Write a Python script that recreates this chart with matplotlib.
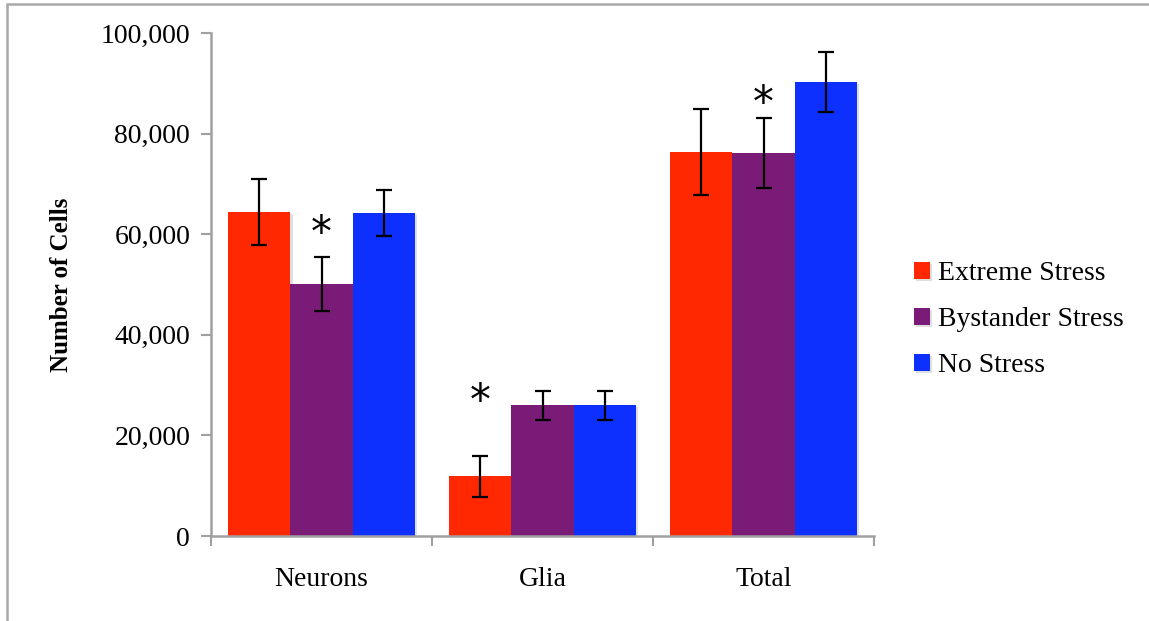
import matplotlib
matplotlib.use('Agg')
import matplotlib.pyplot as plt
import matplotlib.patheffects as pe
from matplotlib.patches import Rectangle
import numpy as np

plt.rcParams['font.family'] = ['Liberation Serif', 'DejaVu Serif']

# cell counts per region and condition
categories = ['Neurons', 'Glia', 'Total']
groups = ['Extreme Stress', 'Bystander Stress', 'No Stress']
means = {
    'Extreme Stress':   [64400, 11900, 76300],
    'Bystander Stress': [50100, 26000, 76100],
    'No Stress':        [64200, 26000, 90300],
}
errors = {
    'Extreme Stress':   [6500, 4100, 8500],
    'Bystander Stress': [5300, 2900, 7000],
    'No Stress':        [4600, 2850, 6000],
}
colors = ['#FF2800', '#7A1B77', '#0D30FF']
# significance markers: (category index, group index, height)
stars = [(0, 1, 60000), (1, 0, 26700), (2, 1, 85900)]

fig = plt.figure(figsize=(11.49, 6.21), dpi=100)
ax = fig.add_axes([211 / 1149, 1 - 536 / 621, 663 / 1149, 503 / 621])

x = np.arange(len(categories))
width = 0.281
shadow = [pe.SimplePatchShadow(offset=(1.5, -1.5), shadow_rgbFace='gray', alpha=0.25), pe.Normal()]

for i, (g, c) in enumerate(zip(groups, colors)):
    pos = x + (i - 1) * width
    ax.bar(pos, means[g], width, color=c, label=g, path_effects=shadow, zorder=2)
    ax.errorbar(pos, means[g], yerr=errors[g], fmt='none', ecolor='black',
                elinewidth=1.6, capsize=6, capthick=1.6, zorder=3)

for ci, gi, h in stars:
    ax.text(x[ci] + (gi - 1) * width, h, '*', ha='center', va='center',
            fontsize=30, family='DejaVu Sans')

ax.set_xlim(-0.5, 2.5)
ax.set_ylim(0, 100000)
ax.set_yticks(range(0, 100001, 20000))
ax.yaxis.set_major_formatter(matplotlib.ticker.FuncFormatter(lambda v, p: f'{int(v):,}'))
ax.set_xticks(x)
ax.set_xticklabels(categories)
ax.set_xticks([-0.5, 0.5, 1.5, 2.5], minor=True)
ax.tick_params(axis='x', which='major', length=0, pad=22, labelsize=20)
ax.tick_params(axis='x', which='minor', length=7, width=1.5, color='#A0A0A0')
ax.tick_params(axis='y', length=7, width=1.5, color='#A0A0A0', labelsize=20, pad=8)

for side in ['top', 'right']:
    ax.spines[side].set_visible(False)
for side in ['left', 'bottom']:
    ax.spines[side].set_color('#A0A0A0')
    ax.spines[side].set_linewidth(1.8)

ax.set_ylabel('Number of Cells', fontsize=18, fontweight='bold', labelpad=20)

leg = ax.legend(loc='center left', bbox_to_anchor=(1.023, 0.43), frameon=False,
                fontsize=20, handlelength=0.55, handleheight=0.55,
                handletextpad=0.3, labelspacing=0.75)

# outer chart frame
fig.patches.append(Rectangle((7 / 1149, -0.1), 1.2, 1 - 4 / 621 + 0.1,
                             transform=fig.transFigure, fill=False,
                             edgecolor='#A8A8A8', linewidth=1.8))

fig.savefig('out.png', dpi=100)
